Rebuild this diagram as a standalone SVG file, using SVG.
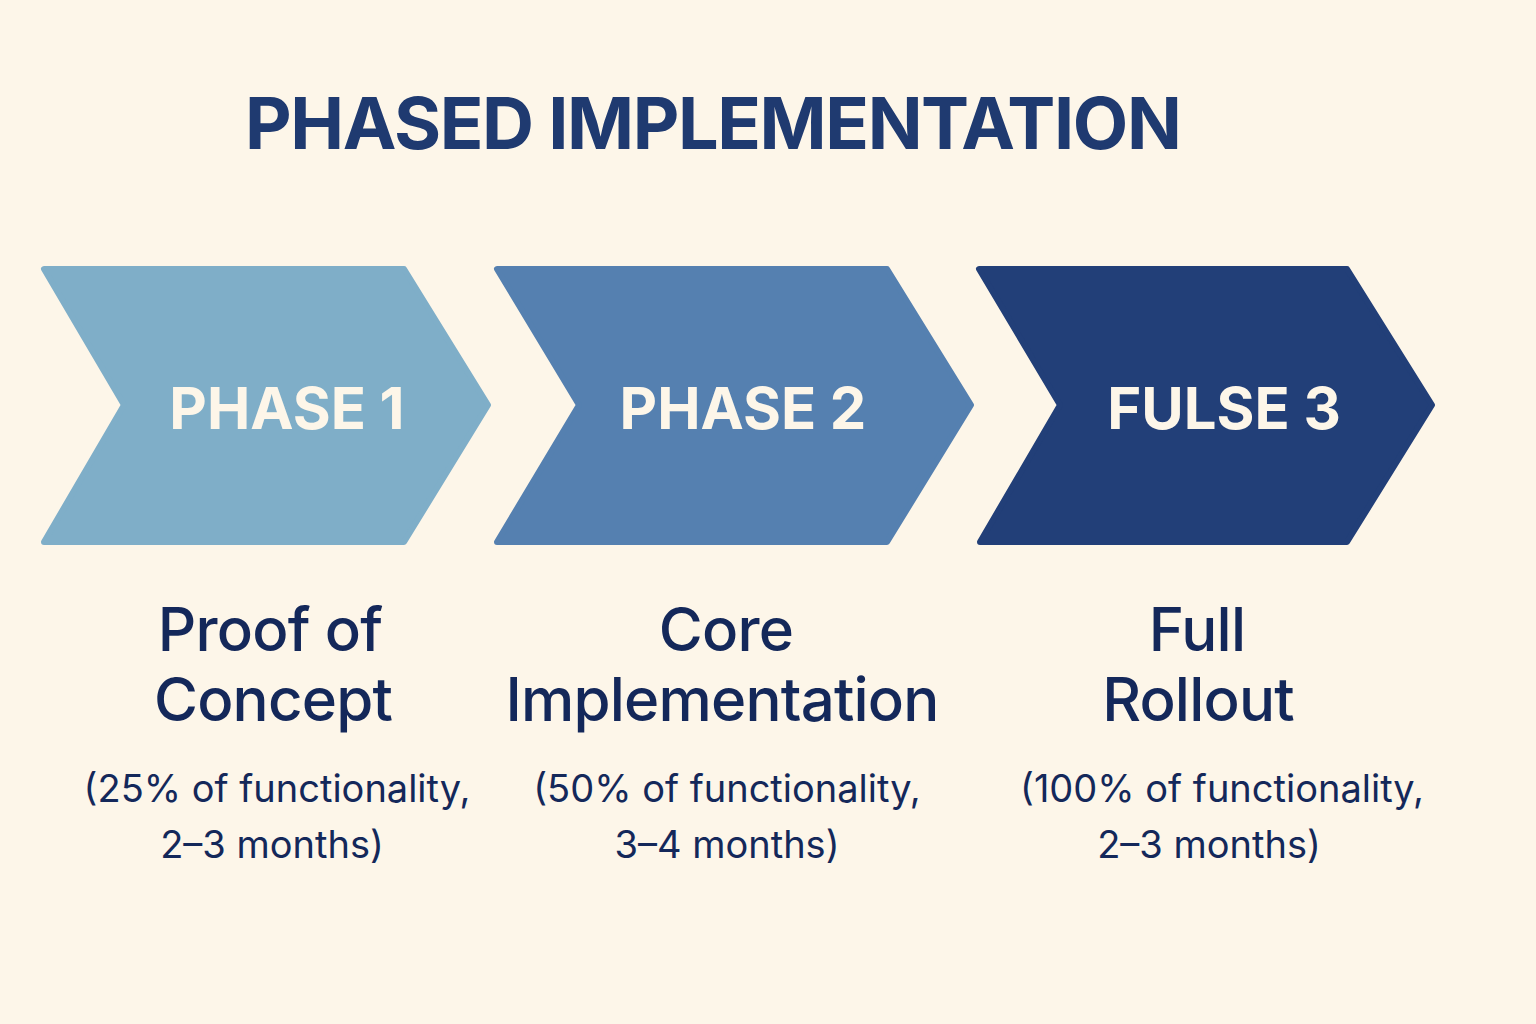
<svg xmlns="http://www.w3.org/2000/svg" width="1536" height="1024" viewBox="0 0 1536 1024">
<style>
.title{font-family:Inter,"Liberation Sans",sans-serif;font-weight:700;font-size:72px;letter-spacing:-1.4px;fill:#1F3A70;}
.ph{font-family:Inter,"Liberation Sans",sans-serif;font-weight:700;font-size:58px;fill:#FDF6E9;text-anchor:middle;}
.lbl{font-family:Inter,"Liberation Sans",sans-serif;font-weight:500;font-size:60px;letter-spacing:-0.8px;fill:#14285A;text-anchor:middle;}
.sub{font-family:Inter,"Liberation Sans",sans-serif;font-weight:400;font-size:38px;fill:#14285A;text-anchor:middle;}
.chev{stroke-linejoin:round;stroke-width:6;}
</style>
<rect width="1536" height="1024" fill="#FDF6E9"/>
<text class="title" x="245" y="149">PHASED IMPLEMENTATION</text>
<g id="phase1">
<path class="chev" d="M44,269 L404,269 L488,405 L404,542 L44,542 L124,405 Z" fill="#7FAEC8" stroke="#7FAEC8"/>
<text class="ph" x="287" y="429">PHASE 1</text>
</g>
<g id="phase2">
<path class="chev" d="M497,269 L887,269 L971,405 L887,542 L497,542 L579,405 Z" fill="#5580B0" stroke="#5580B0"/>
<text class="ph" x="743" y="429">PHASE 2</text>
</g>
<g id="phase3">
<path class="chev" d="M979,269 L1347,269 L1432,405 L1347,542 L980,542 L1060,405 Z" fill="#223F78" stroke="#223F78"/>
<text class="ph" x="1224" y="429">FULSE 3</text>
</g>
<g id="label1">
<text class="lbl" x="270" y="651">Proof of</text>
<text class="lbl" x="273" y="721">Concept</text>
<text class="sub" x="277" y="802">(25% of functionality,</text>
<text class="sub" x="272" y="858">2–3 months)</text>
</g>
<g id="label2">
<text class="lbl" x="726" y="651">Core</text>
<text class="lbl" x="722" y="721">Implementation</text>
<text class="sub" x="727" y="802">(50% of functionality,</text>
<text class="sub" x="727" y="858">3–4 months)</text>
</g>
<g id="label3">
<text class="lbl" x="1197" y="651">Full</text>
<text class="lbl" x="1198" y="721">Rollout</text>
<text class="sub" x="1222" y="802">(100% of functionality,</text>
<text class="sub" x="1209" y="858">2–3 months)</text>
</g>
<g id="connectors"></g>
</svg>
